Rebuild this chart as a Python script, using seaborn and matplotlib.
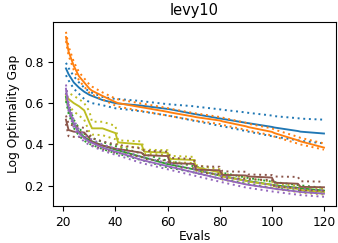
import seaborn as sns
import pandas as pd
import matplotlib as mpl
mpl.use("Agg")
import matplotlib.pyplot as plt

evals = [21, 22, 24, 26, 28, 30, 31, 35, 40, 41, 50, 51, 60, 61, 70, 71, 80, 81, 90, 91, 100, 101, 110, 111, 120]

# blue method
blue_mean = [0.768, 0.74, 0.70, 0.675, 0.655, 0.64, 0.635, 0.615, 0.60, 0.598, 0.588, 0.586, 0.572, 0.570, 0.548, 0.546, 0.526, 0.524, 0.505, 0.503, 0.485, 0.482, 0.465, 0.462, 0.453]
blue_hi = [0.795, 0.77, 0.73, 0.70, 0.675, 0.655, 0.65, 0.63, 0.62, 0.62, 0.61, 0.608, 0.595, 0.594, 0.585, 0.583, 0.57, 0.568, 0.555, 0.553, 0.54, 0.537, 0.527, 0.525, 0.52]
blue_lo = [0.735, 0.71, 0.67, 0.645, 0.62, 0.605, 0.60, 0.59, 0.575, 0.574, 0.56, 0.558, 0.54, 0.538, 0.515, 0.513, 0.49, 0.488, 0.465, 0.462, 0.44, 0.438, 0.42, 0.418, 0.405]

# orange method
orange_mean = [0.92, 0.85, 0.78, 0.73, 0.70, 0.67, 0.66, 0.635, 0.605, 0.60, 0.58, 0.578, 0.558, 0.555, 0.535, 0.532, 0.516, 0.512, 0.488, 0.484, 0.461, 0.455, 0.42, 0.415, 0.385]
orange_hi = [0.945, 0.875, 0.80, 0.75, 0.72, 0.69, 0.68, 0.652, 0.622, 0.618, 0.598, 0.596, 0.576, 0.573, 0.552, 0.55, 0.533, 0.53, 0.505, 0.50, 0.478, 0.472, 0.437, 0.432, 0.405]
orange_lo = [0.90, 0.83, 0.76, 0.71, 0.68, 0.65, 0.642, 0.618, 0.588, 0.583, 0.562, 0.56, 0.54, 0.537, 0.518, 0.515, 0.499, 0.495, 0.471, 0.467, 0.444, 0.438, 0.404, 0.40, 0.375]

# green method
green_mean = [0.63, 0.57, 0.50, 0.46, 0.435, 0.42, 0.415, 0.395, 0.375, 0.372, 0.34, 0.337, 0.305, 0.303, 0.28, 0.277, 0.25, 0.248, 0.225, 0.223, 0.205, 0.203, 0.19, 0.188, 0.177]
green_hi = [0.65, 0.59, 0.52, 0.478, 0.452, 0.437, 0.432, 0.412, 0.392, 0.389, 0.356, 0.353, 0.321, 0.319, 0.295, 0.292, 0.265, 0.263, 0.24, 0.238, 0.22, 0.218, 0.204, 0.202, 0.19]
green_lo = [0.61, 0.55, 0.48, 0.442, 0.418, 0.403, 0.398, 0.378, 0.358, 0.355, 0.324, 0.321, 0.289, 0.287, 0.265, 0.262, 0.235, 0.233, 0.21, 0.208, 0.19, 0.188, 0.176, 0.174, 0.163]

# purple method
purple_mean = [0.67, 0.58, 0.50, 0.455, 0.43, 0.413, 0.408, 0.385, 0.365, 0.362, 0.325, 0.322, 0.295, 0.292, 0.265, 0.262, 0.235, 0.232, 0.207, 0.205, 0.188, 0.186, 0.172, 0.17, 0.162]
purple_hi = [0.69, 0.60, 0.518, 0.472, 0.446, 0.429, 0.424, 0.40, 0.38, 0.377, 0.34, 0.337, 0.31, 0.307, 0.28, 0.277, 0.25, 0.247, 0.222, 0.22, 0.203, 0.201, 0.187, 0.185, 0.177]
purple_lo = [0.65, 0.56, 0.482, 0.438, 0.414, 0.397, 0.392, 0.37, 0.35, 0.347, 0.31, 0.307, 0.28, 0.277, 0.25, 0.247, 0.22, 0.217, 0.192, 0.19, 0.173, 0.171, 0.157, 0.155, 0.147]

# brown method
brown_mean = [0.52, 0.47, 0.462, 0.46, 0.458, 0.43, 0.412, 0.395, 0.38, 0.378, 0.36, 0.348, 0.344, 0.31, 0.306, 0.278, 0.275, 0.253, 0.25, 0.245, 0.24, 0.215, 0.21, 0.195, 0.193]
brown_hi = [0.54, 0.50, 0.49, 0.485, 0.48, 0.45, 0.43, 0.415, 0.40, 0.398, 0.38, 0.37, 0.365, 0.335, 0.33, 0.295, 0.292, 0.27, 0.268, 0.255, 0.252, 0.245, 0.243, 0.222, 0.22]
brown_lo = [0.50, 0.44, 0.437, 0.436, 0.435, 0.41, 0.395, 0.378, 0.36, 0.358, 0.34, 0.328, 0.322, 0.29, 0.285, 0.262, 0.258, 0.238, 0.234, 0.232, 0.228, 0.195, 0.19, 0.178, 0.176]

# olive method
olive_mean = [0.64, 0.62, 0.60, 0.585, 0.565, 0.505, 0.478, 0.478, 0.455, 0.41, 0.40, 0.365, 0.36, 0.33, 0.325, 0.29, 0.265, 0.245, 0.225, 0.22, 0.205, 0.198, 0.185, 0.18, 0.17]
olive_hi = [0.66, 0.65, 0.635, 0.62, 0.60, 0.56, 0.51, 0.51, 0.49, 0.42, 0.415, 0.375, 0.372, 0.345, 0.34, 0.30, 0.28, 0.26, 0.24, 0.235, 0.22, 0.21, 0.20, 0.195, 0.185]
olive_lo = [0.62, 0.59, 0.56, 0.54, 0.52, 0.46, 0.448, 0.445, 0.425, 0.39, 0.385, 0.355, 0.35, 0.315, 0.31, 0.275, 0.25, 0.23, 0.21, 0.205, 0.19, 0.185, 0.17, 0.167, 0.158]

methods = {
    "C0": (blue_mean, blue_lo, blue_hi),
    "C1": (orange_mean, orange_lo, orange_hi),
    "C2": (green_mean, green_lo, green_hi),
    "C8": (olive_mean, olive_lo, olive_hi),
    "C5": (brown_mean, brown_lo, brown_hi),
    "C4": (purple_mean, purple_lo, purple_hi),
}


def gap_plot(save_file):
    plt.rcParams["font.size"] = 8.8
    plt.rcParams["axes.titlesize"] = 10.5
    fig, ax = plt.subplots(figsize=(3.38, 2.43), dpi=100)
    fig.subplots_adjust(left=0.157, right=0.994, top=0.909, bottom=0.152)

    for color, (mean, lo, hi) in methods.items():
        df = pd.DataFrame({"Evals": evals, "mean": mean, "lo": lo, "hi": hi})
        sns.lineplot(data=df, x="Evals", y="mean", color=color, lw=1.35, ax=ax)
        sns.lineplot(data=df, x="Evals", y="lo", color=color, lw=1.4, ls=(0, (1, 1.9)), ax=ax)
        sns.lineplot(data=df, x="Evals", y="hi", color=color, lw=1.4, ls=(0, (1, 1.9)), ax=ax)

    ax.set_xlim(16.05, 124.6)
    ax.set_ylim(0.102, 0.992)
    ax.set_xticks([20, 40, 60, 80, 100, 120])
    ax.set_yticks([0.2, 0.4, 0.6, 0.8])
    ax.set_title("levy10", pad=5)
    ax.set_xlabel("Evals", labelpad=1)
    ax.set_ylabel("Log Optimality Gap", labelpad=3)
    plt.savefig(save_file, dpi=100)


if __name__ == '__main__':
    gap_plot("out.png")
